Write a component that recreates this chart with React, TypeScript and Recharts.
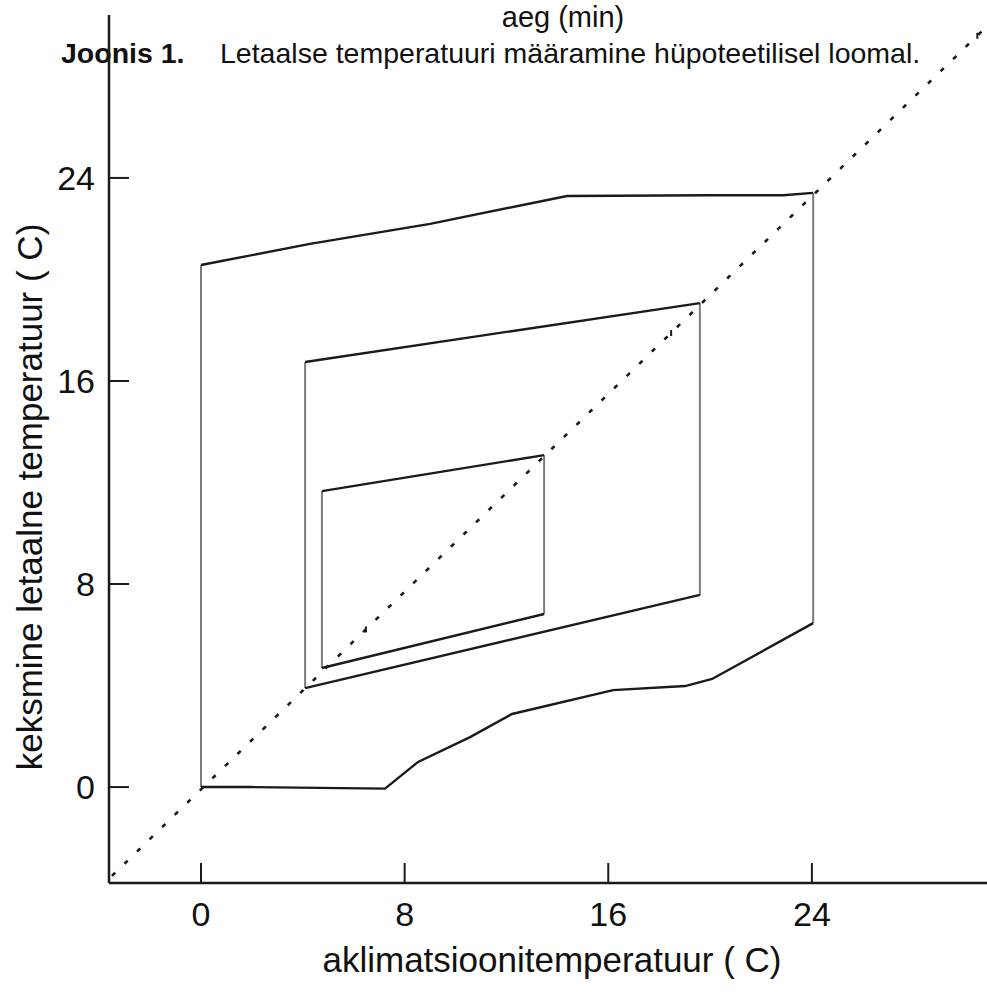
import { LineChart, Line, XAxis, YAxis, Scatter } from "recharts";

// Outer envelope (widest tolerance zone)
const outerTopX = [0, 4.28, 9.0, 14.38, 20.0, 22.87, 24.05];
const outerTopY = [20.57, 21.4, 22.19, 23.29, 23.32, 23.32, 23.41];
const outerBottomX = [0, 1.96, 7.23, 8.53, 10.57, 12.22, 16.19, 19.02, 20.08, 24.05];
const outerBottomY = [0, 0, -0.06, 0.99, 1.97, 2.88, 3.82, 3.98, 4.26, 6.46];
const outerSidesX = [0, 24.05];

// Middle zone
const middleX = [4.09, 19.6];
const middleTopY = [16.75, 19.07];
const middleBottomY = [3.9, 7.57];

// Inner zone
const innerX = [4.75, 13.48];
const innerTopY = [11.66, 13.08];
const innerBottomY = [4.69, 6.82];

// Dotted reference diagonal and its stray vertical dashes
const diagX = [-3.5, 30.8];
const diagY = [-3.5, 29.9];
const dashMarkX = [6.48, 18.47, 30.5];
const dashMarkY = [6.21, 17.89, 29.6];

const xTicks = [0, 8, 16, 24];
const yTicks = [0, 8, 16, 24];

const FONT = "'Liberation Sans', Arial, Helvetica, sans-serif";
const INK = "#1a1a1a";
const GREY = "#7c7c7c";

const zip = (xs: number[], ys: number[]) => xs.map((x, i) => ({ x, y: ys[i] }));

const XTick = (props: any) => {
  const { x, y, payload } = props;
  return (
    <g>
      <line x1={x} x2={x} y1={y} y2={y - 20} stroke={INK} strokeWidth={2} />
      <text x={x} y={y + 43} textAnchor="middle" fontSize={34} fontFamily={FONT} fill="#111">
        {payload.value}
      </text>
    </g>
  );
};

const YTick = (props: any) => {
  const { x, y, payload } = props;
  return (
    <g>
      <line x1={x} x2={x + 20} y1={y} y2={y} stroke={INK} strokeWidth={2} />
      <text x={x - 14} y={y + 12} textAnchor="end" fontSize={34} fontFamily={FONT} fill="#111">
        {payload.value}
      </text>
    </g>
  );
};

const DashMark = (props: any) => {
  const { cx, cy } = props;
  return <line x1={cx} x2={cx} y1={cy - 3} y2={cy + 3} stroke={INK} strokeWidth={2} />;
};

export default function App() {
  const black = { stroke: INK, strokeWidth: 2.4, dot: false, isAnimationActive: false, type: "linear" as const };
  const grey = { stroke: GREY, strokeWidth: 2, dot: false, isAnimationActive: false, type: "linear" as const };

  return (
    <div style={{ position: "absolute", left: 0, top: 0, width: 987, height: 995, background: "#fff" }}>
      <svg width={987} height={80} style={{ position: "absolute", left: 0, top: 0 }}>
        <text x={563} y={27} textAnchor="middle" fontSize={29} fontFamily={FONT} fill="#111">
          aeg (min)
        </text>
        <text x={61} y={63} fontSize={28.5} fontFamily={FONT} fill="#111">
          <tspan fontWeight="bold">Joonis 1.</tspan>
          <tspan x={220}>Letaalse temperatuuri määramine hüpoteetilisel loomal.</tspan>
        </text>
      </svg>
      <div style={{ position: "absolute", left: 0, top: 0 }}>
        <LineChart width={987} height={995} margin={{ top: 15, right: 0, bottom: 0, left: 0 }}>
          <XAxis
            type="number"
            dataKey="x"
            domain={[-3.615, 30.88]}
            allowDataOverflow
            ticks={xTicks}
            height={112}
            tickSize={0}
            tickMargin={0}
            tickLine={false}
            tick={<XTick />}
            axisLine={{ stroke: INK, strokeWidth: 2.5 }}
            label={(p: any) => {
              const vb = p.viewBox;
              return (
                <text x={552} y={vb.y + 89} textAnchor="middle" fontSize={35} fontFamily={FONT} fill="#111">
                  aklimatsioonitemperatuur ( C)
                </text>
              );
            }}
          />
          <YAxis
            type="number"
            domain={[-3.78, 30.42]}
            allowDataOverflow
            ticks={yTicks}
            width={109}
            tickSize={0}
            tickMargin={0}
            tickLine={false}
            tick={<YTick />}
            axisLine={{ stroke: INK, strokeWidth: 2.5 }}
            label={() => (
              <text
                x={42}
                y={497}
                transform="rotate(-90 42 497)"
                textAnchor="middle"
                fontSize={35}
                fontFamily={FONT}
                fill="#111"
              >
                keksmine letaalne temperatuur ( C)
              </text>
            )}
          />
          <Line
            data={zip(diagX, diagY)}
            dataKey="y"
            stroke={INK}
            strokeWidth={2.6}
            strokeDasharray="4.5 13"
            dot={false}
            isAnimationActive={false}
          />
          <Scatter data={zip(dashMarkX, dashMarkY)} dataKey="y" shape={<DashMark />} isAnimationActive={false} />

          <Line data={zip([outerSidesX[0], outerSidesX[0]], [outerTopY[0], outerBottomY[0]])} dataKey="y" {...grey} />
          <Line
            data={zip([outerSidesX[1], outerSidesX[1]], [outerTopY[outerTopY.length - 1], outerBottomY[outerBottomY.length - 1]])}
            dataKey="y"
            {...grey}
          />
          <Line data={zip([middleX[0], middleX[0]], [middleTopY[0], middleBottomY[0]])} dataKey="y" {...grey} />
          <Line data={zip([middleX[1], middleX[1]], [middleTopY[1], middleBottomY[1]])} dataKey="y" {...grey} />
          <Line data={zip([innerX[0], innerX[0]], [innerTopY[0], innerBottomY[0]])} dataKey="y" {...grey} />
          <Line data={zip([innerX[1], innerX[1]], [innerTopY[1], innerBottomY[1]])} dataKey="y" {...grey} />

          <Line data={zip(outerTopX, outerTopY)} dataKey="y" {...black} />
          <Line data={zip(outerBottomX, outerBottomY)} dataKey="y" {...black} />
          <Line data={zip(middleX, middleTopY)} dataKey="y" {...black} />
          <Line data={zip(middleX, middleBottomY)} dataKey="y" {...black} />
          <Line data={zip(innerX, innerTopY)} dataKey="y" {...black} />
          <Line data={zip(innerX, innerBottomY)} dataKey="y" {...black} />
        </LineChart>
      </div>
    </div>
  );
}
